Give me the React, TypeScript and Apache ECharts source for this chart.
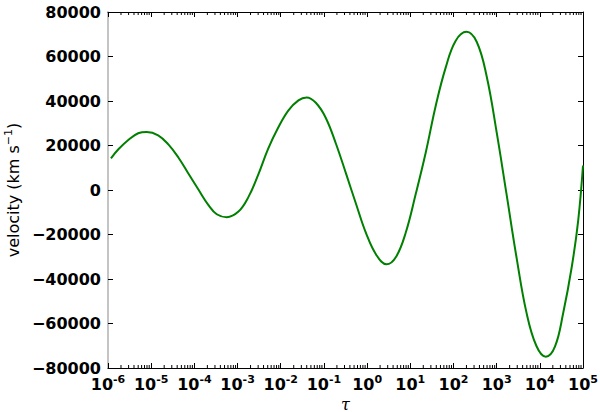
import React, { useEffect, useRef } from "react";
import * as echarts from "echarts";

// tau values (x, log scale)
const tauValues: number[] = [
  1.17e-6, 1.74e-6, 2.95e-6, 5.0e-6, 7.9e-6, 1.45e-5, 2.5e-5, 4.3e-5, 7.2e-5,
  1.23e-4, 2.1e-4, 3.3e-4, 5.6e-4, 1.05e-3, 1.78e-3, 3.0e-3, 5.1e-3, 8.7e-3,
  1.51e-2, 2.57e-2, 3.98e-2, 6.5e-2, 0.11, 0.19, 0.33, 0.56, 0.95,
  1.65, 2.82, 4.7, 7.9, 13.5, 22.9, 39, 66, 112, 200, 347, 589, 1000,
  1700, 2900, 4900, 8300, 13800, 22400, 34700, 55000, 77600, 100000,
];

// velocity values (km/s)
const velocityValues: number[] = [
  14250, 18300, 22500, 25500, 26100, 24600, 20500, 14500, 7500,
  300, -6700, -10900, -12200, -9700, -3200, 6800, 18500, 28000,
  35800, 40300, 41600, 39200, 32500, 20800, 7000, -6500, -19500,
  -29300, -33400, -30000, -19000, -1500, 17000, 38000, 55000, 67000, 71100, 66500, 51000, 26000,
  -2000, -30500, -55000, -70000, -74900, -70400, -55400, -34500, -13500, 11000,
];

const xMin = 1e-6;
const xMax = 1e5;
const yMin = -80000;
const yMax = 80000;
const yInterval = 20000;

// minor tick positions on the log axis (2..9 x 10^k)
const minorTickValues: number[] = [];
for (let k = -6; k <= 4; k++) {
  for (let m = 2; m <= 9; m++) {
    minorTickValues.push(Number((m * Math.pow(10, k)).toPrecision(3)));
  }
}

const FONT = "DejaVu Sans";

export default function App() {
  const ref = useRef<HTMLDivElement>(null);

  useEffect(() => {
    if (!ref.current) return;
    const chart = echarts.init(ref.current, null, { renderer: "svg" });

    const lineData = tauValues.map((t, i) => [t, velocityValues[i]]);

    const option: any = {
      animation: false,
      backgroundColor: "#ffffff",
      grid: {
        left: 108,
        right: 17,
        top: 12,
        bottom: 44,
        containLabel: false,
        outerBoundsMode: "none",
      },
      xAxis: [
        {
          type: "log",
          logBase: 10,
          min: xMin,
          max: xMax,
          interval: 1,
          splitNumber: 11,
          position: "bottom",
          name: "τ",
          nameLocation: "middle",
          nameGap: 23,
          nameTextStyle: {
            fontFamily: "DejaVu Serif",
            fontStyle: "italic",
            fontSize: 16,
            lineHeight: 16,
            color: "#000",
          },
          axisLine: { show: true, onZero: false, lineStyle: { color: "#000", width: 1 } },
          axisTick: { show: true, inside: true, length: 5, interval: 0, lineStyle: { color: "#000" } },
          splitLine: { show: false },
          axisLabel: {
            margin: 6,
            interval: 0,
            hideOverlap: false,
            color: "#000",
            formatter: (v: number) => {
              const e = Math.round(Math.log10(v));
              return "{b|10}{s|" + e + "}";
            },
            rich: {
              b: { fontFamily: FONT, fontWeight: "bold", fontSize: 16, lineHeight: 20, color: "#000" },
              s: { fontFamily: FONT, fontWeight: "bold", fontSize: 11, lineHeight: 12, verticalAlign: "top", color: "#000" },
            },
          },
        },
        {
          type: "log",
          logBase: 10,
          min: xMin,
          max: xMax,
          interval: 1,
          splitNumber: 11,
          position: "top",
          axisLine: { show: true, onZero: false, lineStyle: { color: "#000", width: 1 } },
          axisTick: { show: true, inside: true, length: 5, interval: 0, lineStyle: { color: "#000" } },
          axisLabel: { show: false },
          splitLine: { show: false },
        },
      ],
      yAxis: [
        {
          type: "value",
          min: yMin,
          max: yMax,
          interval: yInterval,
          position: "left",
          name: "{t|velocity (km s}{s|−1}{t|)}",
          nameLocation: "middle",
          nameGap: 84,
          nameRotate: 90,
          nameTextStyle: {
            rich: {
              t: { fontFamily: FONT, fontSize: 16, lineHeight: 20, color: "#000" },
              s: { fontFamily: FONT, fontSize: 11, lineHeight: 12, verticalAlign: "top", color: "#000" },
            },
          },
          axisLine: { show: true, onZero: false, lineStyle: { color: "#c4c4c4", width: 2 } },
          axisTick: { show: true, inside: true, length: 5, lineStyle: { color: "#000" } },
          splitLine: { show: false },
          axisLabel: {
            margin: 7,
            fontFamily: FONT,
            fontWeight: "bold",
            fontSize: 16,
            color: "#000",
            formatter: (v: number) => (v < 0 ? "\u2212" + Math.abs(v) : String(v)),
          },
        },
        {
          type: "value",
          min: yMin,
          max: yMax,
          interval: yInterval,
          position: "right",
          axisLine: { show: true, onZero: false, lineStyle: { color: "#000", width: 1 } },
          axisTick: { show: true, inside: true, length: 5, lineStyle: { color: "#000" } },
          axisLabel: { show: false },
          splitLine: { show: false },
        },
      ],
      series: [
        {
          type: "custom",
          xAxisIndex: 0,
          yAxisIndex: 0,
          silent: true,
          clip: false,
          encode: { x: 0, y: 1 },
          data: minorTickValues.map((v) => [v, 0]),
          renderItem: (params: any, api: any) => {
            const x = api.value(0);
            const pb = api.coord([x, yMin]);
            const pt = api.coord([x, yMax]);
            return {
              type: "group",
              children: [
                {
                  type: "line",
                  shape: { x1: pb[0], y1: pb[1], x2: pb[0], y2: pb[1] - 3 },
                  style: { stroke: "#000", lineWidth: 1 },
                },
                {
                  type: "line",
                  shape: { x1: pt[0], y1: pt[1], x2: pt[0], y2: pt[1] + 3 },
                  style: { stroke: "#000", lineWidth: 1 },
                },
              ],
            };
          },
        },
        {
          type: "line",
          xAxisIndex: 0,
          yAxisIndex: 0,
          data: lineData,
          smooth: 0.4,
          showSymbol: false,
          symbol: "none",
          lineStyle: { color: "#008000", width: 2 },
          z: 5,
        },
      ],
    };

    chart.setOption(option);
    return () => chart.dispose();
  }, []);

  return (
    <div
      ref={ref}
      style={{ position: "fixed", left: 0, top: 0, width: 600, height: 412 }}
    />
  );
}
